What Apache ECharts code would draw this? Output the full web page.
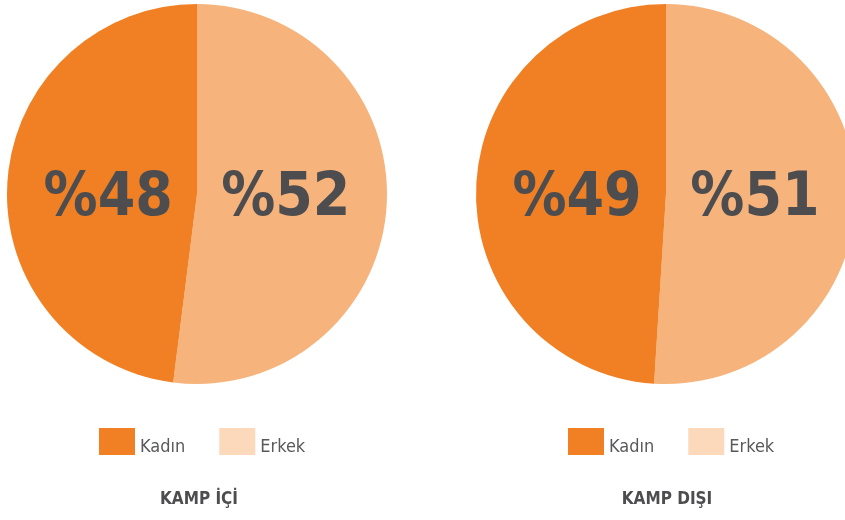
<!DOCTYPE html>
<html>
<head>
<meta charset="utf-8">
<script src="https://cdn.jsdelivr.net/npm/echarts@6/dist/echarts.min.js"></script>
<style>html,body{margin:0;padding:0;background:#fff;}#c{width:845px;height:520px;}</style>
</head>
<body>
<div id="c"></div>
<script>
const categories = ['Kadın', 'Erkek'];
const kampIci = [48, 52];
const kampDisi = [49, 51];
const titles = ['KAMP İÇİ', 'KAMP DIŞI'];

const pieColors = {'Kadın': '#f08023', 'Erkek': '#f6b47c'};
const legendColors = {'Kadın': '#f08023', 'Erkek': '#fcd9bb'};
const FONT = '"Liberation Sans Narrow", "DejaVu Sans Condensed", sans-serif';

const chart = echarts.init(document.getElementById('c'), null, {renderer: 'canvas'});

function pieSeries(name, vals, cx) {
  return {
    name: name,
    type: 'pie',
    center: [cx, 194],
    radius: [0, 190],
    startAngle: 90,
    clockwise: true,
    animation: false,
    silent: true,
    data: categories.map((c, i) => ({name: c, value: vals[i], itemStyle: {color: pieColors[c]}})).reverse(),
    label: {
      show: true,
      position: 'inside',
      formatter: p => '%' + p.value,
      fontFamily: FONT,
      fontWeight: 'bold',
      fontSize: 60,
      color: '#4d4d4f'
    },
    labelLayout: p => ({y: 199, dx: p.dataIndex === 0 ? -9 : 9}),
    labelLine: {show: false},
    emphasis: {disabled: true}
  };
}

function legendFor(left) {
  return {
    left: left,
    top: 428,
    padding: 0,
    orient: 'horizontal',
    itemWidth: 36,
    itemHeight: 27,
    itemGap: 34,
    icon: 'rect',
    selectedMode: false,
    formatter: n => '{t|' + n + '}',
    textStyle: {
      fontFamily: FONT, fontSize: 18, color: '#58595b',
      rich: {t: {fontFamily: FONT, fontSize: 18, color: '#58595b', padding: [12, 0, 0, 0]}}
    },
    data: categories.map(c => ({name: c, itemStyle: {color: legendColors[c]}}))
  };
}

chart.setOption({
  backgroundColor: '#ffffff',
  title: [
    {text: titles[0], left: 199, top: 491, padding: 0, textAlign: 'center', textStyle: {fontFamily: FONT, fontWeight: 'bold', fontSize: 17, color: '#4d4d4f'}},
    {text: titles[1], left: 667, top: 491, padding: 0, textAlign: 'center', textStyle: {fontFamily: FONT, fontWeight: 'bold', fontSize: 17, color: '#4d4d4f'}}
  ],
  legend: [legendFor(99), legendFor(568)],
  series: [pieSeries(titles[0], kampIci, 197), pieSeries(titles[1], kampDisi, 666)]
});
</script>
</body>
</html>
